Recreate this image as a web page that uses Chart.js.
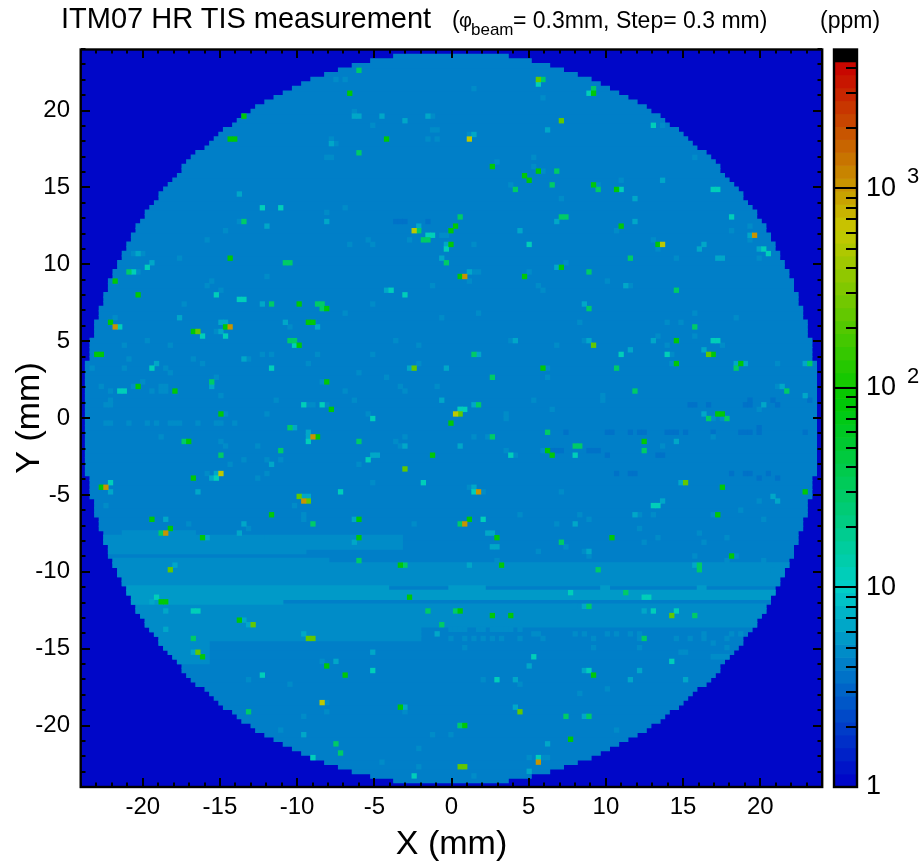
<!DOCTYPE html>
<html>
<head>
<meta charset="utf-8">
<title>ITM07 HR TIS measurement</title>
<script src="https://cdn.jsdelivr.net/npm/chart.js@4.4.9/dist/chart.umd.min.js"></script>
<style>
  html, body { margin: 0; padding: 0; background: #fff; }
  body { width: 923px; height: 865px; position: relative; overflow: hidden; font-family: "Liberation Sans", sans-serif; color: #000; }
  canvas { position: absolute; top: 0; }
  #map { left: 0; }
  #scale { left: 826px; }
  .t { position: absolute; line-height: 1; white-space: pre; }
</style>
</head>
<body>
<canvas id="map" width="923" height="865"></canvas>
<canvas id="scale" width="97" height="865"></canvas>
<div class="t" style="left:61px;top:4px;font-size:29px">ITM07 HR TIS measurement</div>
<div class="t" style="left:452px;top:9px;font-size:23px">(</div>
<div class="t" style="left:459px;top:10px;font-size:20px">φ</div>
<div class="t" style="left:471px;top:21px;font-size:17px">beam</div>
<div class="t" style="left:513px;top:9px;font-size:23px">= 0.3mm, Step= 0.3 mm)</div>
<div class="t" style="left:820px;top:9px;font-size:23px">(ppm)</div>
<script>
// half width of the disc, in cells, for row 0, 1, 2 ... 79 (same above and below centre)
const discHalfCols = [79,79,79,79,79,79,79,79,79,79,79,79,79,78,78,78,78,78,77,77,77,77,76,76,76,75,75,75,74,74,74,73,73,72,72,71,71,70,70,69,69,68,68,67,66,66,65,64,63,63,62,61,60,59,58,58,57,56,55,53,52,51,50,49,47,46,45,43,42,40,38,36,34,32,30,27,24,21,17,12];

const basePpm = 4.4;
const emptyPpm = 1;

// horizontal scattering bands in the lower half, rows and columns inclusive
const bandRowFrom = [-25, -26, -29, -31, -32, -37, -38, -39, -40, -41, -46, -49, -52, -37, -37, -37];
const bandRowTo = [-25, -28, -29, -31, -36, -37, -38, -39, -40, -45, -48, -53, -52, -37, -37, -37];
const bandColFrom = [-71, -80, -80, -80, -80, -80, -80, -80, -80, -80, -80, -80, 57, 0, 33, 54];
const bandColTo = [-56, -11, -32, -27, 80, -14, 80, 80, -37, 80, -7, -53, 60, 7, 34, 55];
const bandPpm = [4.7, 4.7, 4.7, 4.7, 4.7, 5.5, 5.5, 5.5, 5.5, 4.7, 4.7, 4.7, 4.7, 5.5, 5.5, 5.5];

// scatter points by colour class, [col, row] on the scan grid
const cellsDim = [[52,3],[53,3],[56,3],[64,3],[65,3],[71,3],[65,4],[70,4],[78,4],[25,-3],[34,-3],[35,-3],[39,-3],[41,-3],[42,-3],[47,-3],[48,-3],[49,-3],[51,-3],[57,-3],[63,-3],[64,-3],[65,-3],[67,-3],[77,-3],[67,-2],[22,-7],[23,-7],[24,-7],[30,-7],[31,-7],[32,-7],[34,-8],[45,-8],[46,-8],[36,-12],[39,-12],[40,-12],[61,-12],[64,-12],[65,-12],[69,-12],[67,-13],[71,-13],[-12,43],[-11,43],[-10,43],[-5,43]];
const cellsFaint = [[-25,74],[-23,74],[-21,67],[-17,64],[-4,66],[-4,63],[-3,63],[-26,61],[-25,60],[-5,61],[-3,61],[-27,57],[-26,57],[-27,45],[-23,46],[-46,43],[-49,41],[-53,39],[-18,39],[-9,39],[-2,40],[-1,40],[-22,38],[-17,38],[-69,36],[-67,36],[-59,35],[-68,32],[-40,31],[-52,30],[-53,29],[-4,29],[-50,28],[-58,25],[-17,25],[-23,23],[-73,22],[-2,22],[-35,20],[-51,19],[-66,17],[-12,17],[-71,16],[-61,16],[-7,16],[-41,14],[-39,14],[-29,14],[-17,14],[-70,13],[-56,13],[-44,13],[-54,12],[-31,12],[-7,12],[-78,11],[-71,11],[-62,11],[-61,10],[-20,10],[-51,9],[-14,9],[-28,8],[-67,8],[-69,7],[-76,7],[-63,7],[-62,7],[-11,7],[-3,7],[-74,6],[-65,6],[-63,6],[-62,6],[-23,6],[-10,6],[-50,5],[-74,4],[-38,4],[-21,4],[-75,3],[-74,3],[-31,3],[-30,3],[-27,3],[-49,1],[-18,1],[-40,1],[-75,-1],[-74,-1],[-70,-1],[-66,-1],[-64,-1],[-61,-1],[-60,-1],[-59,-1],[-55,-1],[-51,-1],[-50,-1],[-47,-1],[-63,-4],[-10,-4],[-50,-5],[-12,-5],[-11,-6],[-49,-6],[-42,-6],[-40,-9],[-37,-9],[-45,-9],[-48,-10],[-20,-10],[-40,-12],[-53,-12],[-42,-13],[-17,-14],[-75,-19],[-34,-19],[-32,-21],[-32,-22],[-8,-23],[-57,-23],[-44,-24],[-40,-26],[5,72],[20,70],[46,64],[4,62],[53,57],[10,56],[18,57],[18,55],[20,54],[32,51],[13,51],[37,52],[24,48],[36,41],[61,41],[65,42],[65,39],[44,39],[45,37],[5,38],[67,35],[49,35],[25,34],[4,30],[5,32],[6,32],[17,32],[34,30],[19,29],[20,28],[39,29],[53,23],[6,23],[62,22],[28,21],[47,21],[50,21],[45,18],[53,18],[13,17],[29,17],[47,16],[23,16],[59,16],[48,14],[21,11],[48,12],[71,12],[21,9],[71,7],[33,5],[33,4],[18,4],[22,2],[12,1],[12,0],[67,2],[57,0],[59,0],[5,-4],[8,-4],[57,-4],[46,-6],[20,-7],[14,-8],[12,-7],[4,-15],[7,-16],[24,-16],[67,-18],[63,-20],[41,-21],[44,-21],[57,-21],[28,-21],[15,-21],[30,-22],[68,-22],[23,-23],[41,-24],[54,-25],[45,-26],[60,-26],[25,-28],[42,-27],[55,-27],[19,-29],[29,-29],[30,-30],[53,-30],[62,-30],[60,-31],[68,-31],[10,-31],[10,-32],[70,-33],[27,-41],[57,-49],[7,-57],[15,-58],[34,-59],[28,-60],[36,-68],[17,-74],[20,-74],[21,-74],[5,-78],[-7,-72],[-7,-76],[-15,-75],[-37,-68],[-4,-69],[0,-69],[-27,-62],[-10,-64],[-27,-64],[-32,-65],[-44,-57],[-35,-58],[-28,-53],[18,-47],[19,-47],[27,-47],[29,-47],[34,-47],[36,-47],[39,-47],[41,-47],[55,-47],[61,-47],[63,-47],[0,-48],[3,-48],[5,-48],[7,-48],[9,-48],[11,-48],[15,-48],[20,-48],[31,-48],[41,-48],[49,-48],[52,-48],[55,-48],[60,-48],[0,-46],[1,-46],[2,-46],[3,-46],[6,-46],[7,-46],[9,-46],[10,-46],[11,-46],[12,-46],[13,-46],[15,-46],[50,-51],[51,-51],[3,-50],[31,-50],[41,-50],[60,-50]];
const cellsLight = [[-21,66],[-20,66],[-15,66],[-10,65],[-5,66],[-26,60],[-7,42],[-40,42],[-27,43],[-46,49],[-2,35],[-65,34],[-68,36],[-14,28],[-41,25],[-59,22],[-50,21],[-49,21],[-36,21],[-29,20],[-45,13],[-64,12],[-9,11],[-1,11],[-52,7],[-2,4],[2,2],[-50,19],[-1,38],[-74,-16],[-55,-16],[-32,-17],[-31,-17],[-31,-4],[-31,-3],[-10,-6],[-17,-8],[-16,-8],[-39,-10],[-51,-12],[-52,-13],[-62,-22],[-21,-22],[-45,-23],[-46,-25],[-53,-26],[-21,-27],[-60,-32],[-34,-2],[-65,-40],[-62,-42],[-45,-44],[-44,-45],[-62,-46],[-32,-47],[-3,-47],[-56,-51],[-17,-51],[-25,-53],[-10,-63],[-32,-69],[2,-67],[5,62],[21,63],[46,52],[40,48],[23,43],[40,43],[15,41],[65,40],[54,37],[55,38],[58,35],[59,35],[67,37],[23,33],[4,32],[38,29],[29,25],[44,17],[14,17],[30,17],[39,15],[55,15],[6,14],[62,12],[64,12],[77,12],[72,7],[77,5],[5,3],[68,3],[55,1],[49,-5],[2,-6],[50,-14],[5,-15],[70,-17],[71,-18],[46,-18],[40,-21],[27,-23],[8,-25],[9,-25],[9,-28],[10,-28],[30,-29],[4,-32],[53,-32],[42,-42],[29,-41],[29,-55],[41,-55],[14,-57],[39,-57],[51,-57],[14,-63],[29,-65],[21,-71],[17,-77],[17,-54]];
const cellsTeal = [[-41,46],[-37,46],[-5,40],[-4,40],[-1,37],[-66,33],[-69,32],[-13,28],[-51,27],[-10,27],[-46,26],[-45,26],[-72,20],[-54,18],[-49,18],[-72,6],[-71,6],[-65,11],[-39,11],[-34,16],[-32,3],[-28,3],[-17,0],[-31,-5],[-18,-9],[-51,-13],[-6,-14],[-74,-14],[-24,-16],[-64,-39],[-56,-42],[-55,-42],[-41,-56],[-17,-55],[-30,-74],[-8,-78],[19,73],[30,71],[44,64],[61,44],[68,37],[69,36],[17,38],[57,50],[58,50],[37,50],[57,17],[58,17],[37,14],[47,14],[2,2],[3,2],[27,-8],[13,-8],[5,-16],[45,-19],[44,-19],[7,-22],[26,-38],[42,-39],[43,-39],[49,-42],[44,-42],[18,-52],[48,-53],[30,-55],[10,-57],[19,-74]];
const cellsSea = [[-20,76],[-20,58],[-6,39],[-5,39],[-7,41],[-45,43],[-1,34],[-36,34],[-35,34],[-70,32],[-39,25],[-29,25],[-28,25],[-28,24],[-35,17],[-34,17],[-52,8],[-35,-2],[-58,-5],[-20,-5],[-37,-7],[-50,-8],[-30,-23],[2,-23],[-63,-25],[-20,-31],[-10,-32],[-56,-48],[-5,-42],[1,-42],[-2,-45],[-25,-71],[-24,-73],[-44,-64],[20,74],[31,72],[22,51],[14,50],[32,50],[23,54],[39,35],[30,32],[49,28],[24,44],[25,44],[2,44],[30,24],[53,20],[5,14],[36,11],[62,11],[78,12],[9,9],[73,6],[40,6],[6,3],[56,0],[60,0],[21,-3],[9,-4],[27,-6],[28,-6],[42,-7],[24,-27],[54,-32],[54,-33],[32,-33],[38,-38],[30,-41],[53,-43],[42,-48],[25,-65],[30,-65],[2,-67]];
const cellsGreen = [[-22,71],[-45,66],[-48,61],[-47,61],[-14,61],[0,41],[1,42],[0,38],[-48,35],[-73,30],[2,31],[-68,27],[-33,25],[-27,24],[-74,21],[-31,21],[-30,21],[-49,20],[-56,19],[-33,16],[-77,14],[-76,14],[-27,8],[-68,7],[-60,6],[-26,2],[-50,1],[0,-1],[-29,-4],[-57,-5],[-4,-8],[-56,-13],[-76,-15],[-39,-21],[-65,-22],[-20,-22],[-61,-24],[-54,-26],[-20,-26],[-11,-32],[-63,-40],[-62,-40],[-9,-39],[-46,-44],[-54,-52],[-27,-54],[-23,-56],[-11,-63],[31,71],[9,55],[19,54],[16,53],[17,52],[31,51],[36,50],[37,42],[45,38],[24,33],[16,31],[49,17],[57,14],[49,12],[63,12],[20,11],[58,1],[59,1],[21,-7],[22,-8],[42,-5],[59,-15],[77,-16],[58,-21],[4,-22],[10,-26],[35,-26],[61,-30],[11,-32],[9,-43],[13,-43],[31,-56],[26,-70],[3,-67],[2,-42]];
const cellsLime = [[-55,19],[-8,11],[-33,-17],[-31,-18],[-10,-11],[-61,-33],[-55,-51],[-43,-45],[-31,-48],[-30,-48],[19,74],[24,65],[31,16],[56,14],[51,-14],[48,-43],[15,-64],[3,-76],[2,-76],[2,1]];
const cellsYellow = [[-50,-12],[1,1],[4,61],[46,38],[-8,41],[-28,-62]];
const cellsOrange = [[-73,20],[-48,20],[-30,-4],[-75,-15],[-32,-18],[-62,-25],[66,40],[3,31],[6,-16],[3,-23],[19,-75]];
const classPpm = [3.5, 5.0, 6.5, 11, 30, 85, 250, 550, 1100];

const axisTicks = [-20, -15, -10, -5, 0, 5, 10, 15, 20];
const scaleTicks = [1, 10, 100, 1000];

// colour bar steps in ppm
const colorLevelEdges = [1,1.16,1.35,1.57,1.82,2.11,2.45,2.85,3.31,3.84,4.46,5.18,6.01,6.98,8.1,9.41,10.9,12.7,14.7,17.1,19.9,23.1,26.8,31.1,36.1,41.9,48.7,56.5,65.6,76.2,88.5,102.8,119,138,161,187,217,252,292,339,394,458,531,617,717,832,966,1122,1303,1513,1757,2040,2369,2751,3194,3709,4306];
const scaleTop = 5000;

const paletteStops = [
  [0, 0, 0, 200],
  [1, 0, 206, 200],
  [1.95, 0, 200, 0],
  [2.8, 200, 200, 0],
  [3.63, 200, 0, 0],
];

const cellSize = 0.298;
const gridShift = -0.035;

function paletteAt(logV) {
  for (let i = 1; i < paletteStops.length; i++) {
    const a = paletteStops[i - 1];
    const b = paletteStops[i];
    if (logV <= b[0]) {
      const f = (logV - a[0]) / (b[0] - a[0]);
      return `rgb(${Math.round(a[1] + (b[1] - a[1]) * f)},${Math.round(a[2] + (b[2] - a[2]) * f)},${Math.round(a[3] + (b[3] - a[3]) * f)})`;
    }
  }
  return "rgb(200,0,0)";
}

function levelColor(i) {
  const mid = (Math.log10(colorLevelEdges[i]) + Math.log10(colorLevelEdges[i + 1])) / 2;
  return paletteAt(mid);
}

function ppmColor(ppm) {
  let i = 0;
  while (i < colorLevelEdges.length - 2 && ppm >= colorLevelEdges[i + 1]) i++;
  return levelColor(i);
}

const colX = (c) => c * cellSize + gridShift;
const rowY = (r) => r * cellSize + gridShift;

// one bar per scan row for the disc, then the bands, then single cells
const discBars = [];
const dimBands = [];
const brightBands = [];
for (let r = -79; r <= 79; r++) {
  const half = discHalfCols[Math.abs(r)];
  discBars.push({ x: [colX(-half - 0.5), colX(half + 0.5)], y: rowY(r) });
  bandRowFrom.forEach((from, b) => {
    if (r <= from && r >= bandRowTo[b]) {
      const c0 = Math.max(-half, bandColFrom[b]);
      const c1 = Math.min(half, bandColTo[b]);
      const target = bandPpm[b] > 5 ? brightBands : dimBands;
      target.push({ x: [colX(c0 - 0.5), colX(c1 + 0.5)], y: rowY(r) });
    }
  });
}

// lower order is drawn later, on top
function cellDataset(cells, ppm, order) {
  return {
    data: cells.map(([c, r]) => ({ x: [colX(c - 0.5), colX(c + 0.5)], y: rowY(r) })),
    backgroundColor: ppmColor(ppm),
    barThickness: 4.7,
    grouped: false,
    order,
  };
}

const cellClasses = [cellsDim, cellsFaint, cellsLight, cellsTeal, cellsSea, cellsGreen, cellsLime, cellsYellow, cellsOrange];

const frameTicks = {
  id: "frameTicks",
  beforeDatasetsDraw(chart) {
    const { ctx, chartArea: a } = chart;
    ctx.save();
    ctx.fillStyle = ppmColor(emptyPpm);
    ctx.fillRect(a.left, a.top, a.right - a.left, a.bottom - a.top);
    ctx.restore();
  },
  afterDatasetsDraw(chart) {
    const { ctx, chartArea: a, scales } = chart;
    ctx.save();
    ctx.strokeStyle = "#000";
    ctx.lineWidth = 2;
    ctx.beginPath();
    for (let v = -24; v <= 24; v++) {
      const len = v % 5 === 0 ? 9 : 4.5;
      const px = Math.round(scales.x.getPixelForValue(v));
      const py = Math.round(scales.y.getPixelForValue(v));
      ctx.moveTo(px, a.bottom); ctx.lineTo(px, a.bottom - len);
      ctx.moveTo(px, a.top); ctx.lineTo(px, a.top + len);
      ctx.moveTo(a.left, py); ctx.lineTo(a.left + len, py);
      ctx.moveTo(a.right, py); ctx.lineTo(a.right - len, py);
    }
    ctx.stroke();
    ctx.lineWidth = 2.4;
    ctx.strokeRect(a.left - 0.3, a.top + 0.5, a.right - a.left + 0.5, a.bottom - a.top - 0.5);
    ctx.restore();
  },
};

new Chart(document.getElementById("map"), {
  type: "bar",
  plugins: [frameTicks],
  data: {
    datasets: [
      { data: discBars, backgroundColor: ppmColor(basePpm), barThickness: 5, grouped: false, order: 30 },
      { data: dimBands, backgroundColor: ppmColor(4.7), barThickness: 5, grouped: false, order: 29 },
      { data: brightBands, backgroundColor: ppmColor(5.5), barThickness: 5, grouped: false, order: 28 },
      ...cellClasses.map((cells, i) => cellDataset(cells, classPpm[i], 20 - i)),
    ],
  },
  options: {
    indexAxis: "y",
    responsive: false,
    animation: false,
    events: [],
    layout: { padding: { top: 49, right: 101, bottom: 0, left: 0 } },
    plugins: { legend: { display: false }, tooltip: { enabled: false } },
    scales: {
      x: {
        type: "linear",
        min: -24,
        max: 24,
        grid: { display: false },
        border: { display: false },
        afterFit: (s) => { s.height = 78; },
        afterBuildTicks: (s) => { s.ticks = axisTicks.map((value) => ({ value })); },
        ticks: { font: { family: "Liberation Sans", size: 24 }, color: "#000", padding: -2, maxRotation: 0, autoSkip: false },
        title: { display: true, text: "X (mm)", color: "#000", font: { family: "Liberation Sans", size: 34 }, padding: { top: 0, bottom: 0 } },
      },
      y: {
        type: "linear",
        offset: false,
        min: -24,
        max: 24,
        grid: { display: false },
        border: { display: false },
        afterFit: (s) => { s.width = 81; },
        afterBuildTicks: (s) => { s.ticks = axisTicks.map((value) => ({ value })); },
        ticks: { font: { family: "Liberation Sans", size: 24 }, color: "#000", padding: 3, autoSkip: false },
        title: { display: true, text: "Y (mm)", color: "#000", font: { family: "Liberation Sans", size: 34 }, padding: { top: 9, bottom: 0 } },
      },
    },
  },
});

const scaleBars = colorLevelEdges.slice(0, -1).map((lo, i) => ({ x: 0, y: [lo, colorLevelEdges[i + 1]] }));
const scaleColors = scaleBars.map((b, i) => levelColor(i));
scaleBars.push({ x: 0, y: [colorLevelEdges[colorLevelEdges.length - 1], scaleTop] });
scaleColors.push("#000");

const scaleFrame = {
  id: "scaleFrame",
  afterDatasetsDraw(chart) {
    const { ctx, chartArea: a, scales } = chart;
    const y = scales.y;
    ctx.save();
    ctx.strokeStyle = "#000";
    ctx.lineWidth = 2;
    ctx.beginPath();
    for (let d = 1; d < scaleTop; d *= 10) {
      for (let m = 1; m < 10; m++) {
        const v = d * m;
        if (v <= 1 || v >= scaleTop) continue;
        const py = Math.round(y.getPixelForValue(v));
        ctx.moveTo(a.right, py);
        ctx.lineTo(m === 1 ? a.left : a.right - 11, py);
      }
    }
    ctx.stroke();
    ctx.lineWidth = 2.4;
    ctx.strokeRect(a.left, a.top + 0.5, a.right - a.left, a.bottom - a.top - 0.5);
    ctx.fillStyle = "#000";
    ctx.font = '22px "Liberation Sans"';
    ctx.textBaseline = "alphabetic";
    ctx.fillText("2", a.right + 50, y.getPixelForValue(100) - 5);
    ctx.fillText("3", a.right + 50, y.getPixelForValue(1000) - 5);
    ctx.restore();
  },
};

new Chart(document.getElementById("scale"), {
  type: "bar",
  plugins: [scaleFrame],
  data: {
    datasets: [{ data: scaleBars, backgroundColor: scaleColors, barThickness: 24, grouped: false }],
  },
  options: {
    responsive: false,
    animation: false,
    events: [],
    layout: { padding: { top: 49, right: 0, bottom: 78, left: 8 } },
    plugins: { legend: { display: false }, tooltip: { enabled: false } },
    scales: {
      x: { type: "linear", min: -1, max: 1, display: false, offset: false },
      y: {
        type: "logarithmic",
        position: "right",
        min: 1,
        max: scaleTop,
        grid: { display: false },
        border: { display: false },
        afterFit: (s) => { s.width = 66; },
        afterBuildTicks: (s) => { s.ticks = scaleTicks.map((value) => ({ value })); },
        ticks: {
          font: { family: "Liberation Sans", size: 27 },
          color: "#000",
          padding: 1,
          autoSkip: false,
          callback: (v) => (v === 1 ? "1" : "10"),
        },
      },
    },
  },
});
</script>
</body>
</html>
